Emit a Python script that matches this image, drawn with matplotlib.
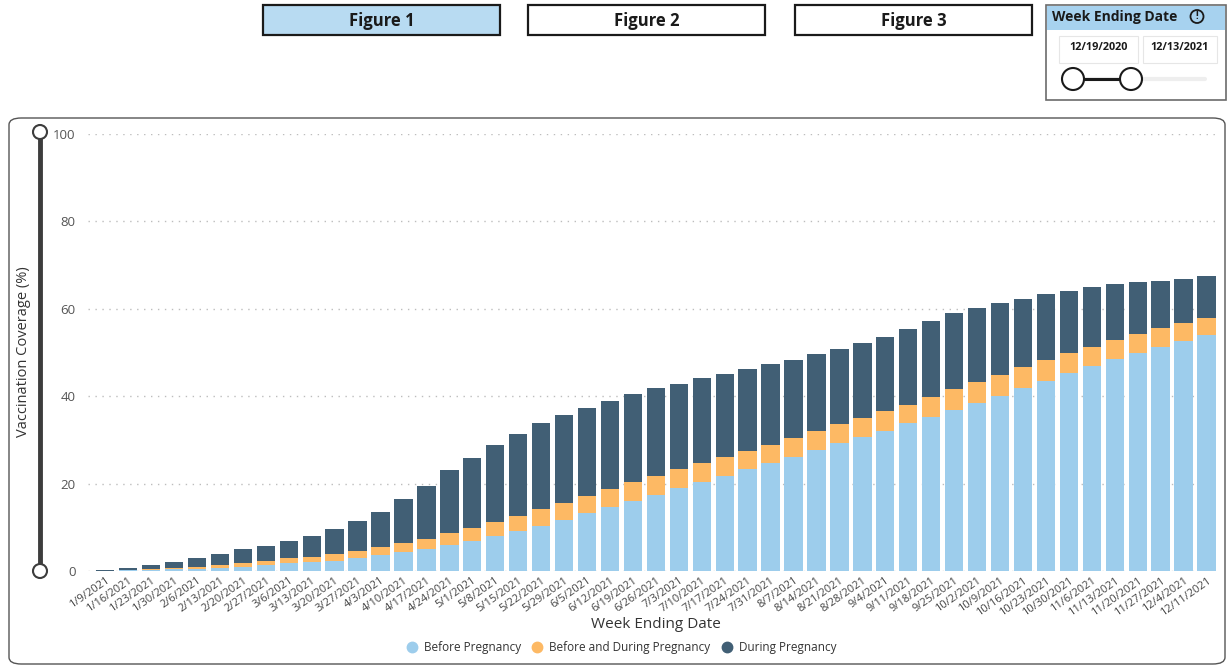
import matplotlib
matplotlib.use("Agg")
import matplotlib.pyplot as plt
from matplotlib.patches import Rectangle, FancyBboxPatch, Ellipse
from matplotlib.lines import Line2D
import numpy as np

plt.rcParams["font.family"] = ["Open Sans", "DejaVu Sans"]

weeks = ["1/9/2021", "1/16/2021", "1/23/2021", "1/30/2021", "2/6/2021", "2/13/2021",
         "2/20/2021", "2/27/2021", "3/6/2021", "3/13/2021", "3/20/2021", "3/27/2021",
         "4/3/2021", "4/10/2021", "4/17/2021", "4/24/2021", "5/1/2021", "5/8/2021",
         "5/15/2021", "5/22/2021", "5/29/2021", "6/5/2021", "6/12/2021", "6/19/2021",
         "6/26/2021", "7/3/2021", "7/10/2021", "7/17/2021", "7/24/2021", "7/31/2021",
         "8/7/2021", "8/14/2021", "8/21/2021", "8/28/2021", "9/4/2021", "9/11/2021",
         "9/18/2021", "9/25/2021", "10/2/2021", "10/9/2021", "10/16/2021", "10/23/2021",
         "10/30/2021", "11/6/2021", "11/13/2021", "11/20/2021", "11/27/2021", "12/4/2021",
         "12/11/2021"]

before_pregnancy = [0.03, 0.12, 0.18, 0.35, 0.5, 0.8, 1.0, 1.3, 1.75, 2.0, 2.4, 3.05,
                    3.6, 4.3, 5.0, 5.9, 6.9, 7.9, 9.1, 10.4, 11.7, 13.2, 14.6, 16.0,
                    17.4, 18.9, 20.4, 21.8, 23.3, 24.7, 26.2, 27.8, 29.2, 30.6, 32.1, 33.8,
                    35.2, 36.9, 38.5, 40.1, 41.9, 43.5, 45.2, 46.8, 48.4, 49.9, 51.2, 52.6,
                    54.0]
before_and_during = [0.03, 0.16, 0.24, 0.35, 0.5, 0.6, 0.9, 1.0, 1.15, 1.3, 1.4, 1.55,
                     1.8, 2.2, 2.4, 2.7, 2.9, 3.4, 3.6, 3.9, 3.9, 4.0, 4.2, 4.3,
                     4.3, 4.4, 4.2, 4.3, 4.2, 4.2, 4.2, 4.2, 4.4, 4.4, 4.4, 4.3,
                     4.6, 4.8, 4.8, 4.75, 4.7, 4.8, 4.6, 4.5, 4.4, 4.4, 4.3, 4.2,
                     4.0]
during_pregnancy = [0.19, 0.52, 0.88, 1.3, 2.0, 2.6, 3.2, 3.5, 4.0, 4.6, 5.7, 6.9,
                    8.2, 9.9, 12.0, 14.4, 16.0, 17.5, 18.65, 19.5, 20.1, 20.2, 20.2, 20.1,
                    20.1, 19.6, 19.5, 19.0, 18.8, 18.4, 17.9, 17.6, 17.2, 17.2, 17.1, 17.2,
                    17.3, 17.3, 16.9, 16.4, 15.7, 15.1, 14.3, 13.7, 12.8, 11.8, 10.9, 10.1,
                    9.4]

series_names = ["Before Pregnancy", "Before and During Pregnancy", "During Pregnancy"]
colors = ["#9DCDEC", "#FDB964", "#415F75"]
y_ticks = [0, 20, 40, 60, 80, 100]

W, H = 1228, 668
fig = plt.figure(figsize=(W / 100, H / 100), dpi=100)
fig.patch.set_facecolor("white")

def fx(x):
    return x / W

def fy(y):
    return 1 - y / H

def rect(x0, y0, x1, y1, **kw):
    r = Rectangle((fx(x0), fy(y1)), fx(x1) - fx(x0), fy(y0) - fy(y1),
                  transform=fig.transFigure, **kw)
    fig.add_artist(r)
    return r

# --- top buttons ---
for label, x0, x1, fc in [("Figure 1", 263, 500, "#B8DBF2"),
                          ("Figure 2", 528, 765, "white"),
                          ("Figure 3", 795, 1032, "white")]:
    rect(x0, 5, x1, 35, facecolor=fc, edgecolor="#1a1a1a", linewidth=1.6)
    fig.text(fx((x0 + x1) / 2), fy(20.5), label, ha="center", va="center",
             fontsize=12, fontweight="bold", color="#1a1a1a")

# --- date slicer ---
rect(1046, 5, 1226, 100, facecolor="white", edgecolor="#6b6b6b", linewidth=1.2)
rect(1047, 6, 1225, 30, facecolor="#A7D2EF", edgecolor="none")
fig.text(fx(1052), fy(17), "Week Ending Date", ha="left", va="center",
         fontsize=10, fontweight="bold", color="#1a1a1a")
fig.add_artist(Ellipse((fx(1197), fy(16.5)), 13 / W, 13 / H, transform=fig.transFigure,
                       facecolor="none", edgecolor="#1a1a1a", linewidth=1.3))
fig.text(fx(1197), fy(16.5), "!", ha="center", va="center", fontsize=7,
         fontweight="bold", color="#1a1a1a")
rect(1059, 36, 1138, 63, facecolor="white", edgecolor="#e6e6e6", linewidth=0.8)
rect(1143, 36, 1217, 63, facecolor="white", edgecolor="#e6e6e6", linewidth=0.8)
fig.text(fx(1098.5), fy(48), "12/19/2020", ha="center", va="center", fontsize=7.8,
         fontweight="bold", color="#1a1a1a")
fig.text(fx(1180), fy(48), "12/13/2021", ha="center", va="center", fontsize=7.8,
         fontweight="bold", color="#1a1a1a")
fig.add_artist(Line2D([fx(1073), fx(1205)], [fy(79), fy(79)], transform=fig.transFigure,
                      color="#eeeeee", linewidth=3, solid_capstyle="round"))
fig.add_artist(Line2D([fx(1073), fx(1131)], [fy(79), fy(79)], transform=fig.transFigure,
                      color="#1a1a1a", linewidth=2.2))
for cx in (1073, 1131):
    fig.add_artist(Ellipse((fx(cx), fy(79)), 22 / W, 22 / H, transform=fig.transFigure,
                           facecolor="white", edgecolor="#1a1a1a", linewidth=1.5, zorder=5))

# --- main chart frame ---
frame = FancyBboxPatch((fx(9), fy(664)), fx(1225) - fx(9), fy(118) - fy(664),
                       boxstyle="round,pad=0,rounding_size=0.01",
                       transform=fig.transFigure, facecolor="none",
                       edgecolor="#555555", linewidth=1.0)
fig.add_artist(frame)

# vertical range slider
fig.add_artist(Line2D([fx(40), fx(40)], [fy(132), fy(571)], transform=fig.transFigure,
                      color="#3d3d3d", linewidth=3.5))
for cy in (132, 571):
    fig.add_artist(Ellipse((fx(40), fy(cy)), 14 / W, 14 / H, transform=fig.transFigure,
                           facecolor="white", edgecolor="#3d3d3d", linewidth=1.5, zorder=5))

# --- axes ---
ax = fig.add_axes([fx(88), fy(571), fx(1218) - fx(88), fy(134) - fy(571)])
x = np.arange(len(weeks))
b1 = np.array(before_pregnancy)
b2 = np.array(before_and_during)
b3 = np.array(during_pregnancy)
ax.bar(x, b1, width=0.8, color=colors[0], label=series_names[0], zorder=3)
ax.bar(x, b2, width=0.8, bottom=b1, color=colors[1], label=series_names[1], zorder=3)
ax.bar(x, b3, width=0.8, bottom=b1 + b2, color=colors[2], label=series_names[2], zorder=3)

ax.set_xlim(-0.75, len(weeks) - 0.5)
ax.set_ylim(0, 100)
ax.set_yticks(y_ticks)
ax.set_yticklabels([str(v) for v in y_ticks], fontsize=9.5, color="#555555")
ax.yaxis.grid(True, linestyle=(0, (1, 4)), color="#bdbdbd", linewidth=1)
ax.set_axisbelow(True)
ax.set_xticks(x)
ax.set_xticklabels(weeks, rotation=35, ha="right", rotation_mode="anchor",
                   fontsize=8, color="#444444")
ax.tick_params(axis="both", length=0)
ax.tick_params(axis="y", pad=9)
ax.tick_params(axis="x", pad=3)
for s in ax.spines.values():
    s.set_visible(False)

fig.text(fx(24), fy(352), "Vaccination Coverage (%)", rotation=90, ha="center",
         va="center", fontsize=10.5, color="#333333")
fig.text(fx(656), fy(624), "Week Ending Date", ha="center", va="center",
         fontsize=11, color="#333333")

handles = [Line2D([], [], marker="o", linestyle="none", markersize=7.5,
                  markerfacecolor=c, markeredgecolor=c) for c in colors]
fig.legend(handles, series_names, loc="center", bbox_to_anchor=(fx(618), fy(648)),
           ncol=3, frameon=False, fontsize=8.5, handletextpad=0.0, columnspacing=0.4,
           labelcolor="#333333")

fig.savefig("out.png", dpi=100, facecolor="white")
